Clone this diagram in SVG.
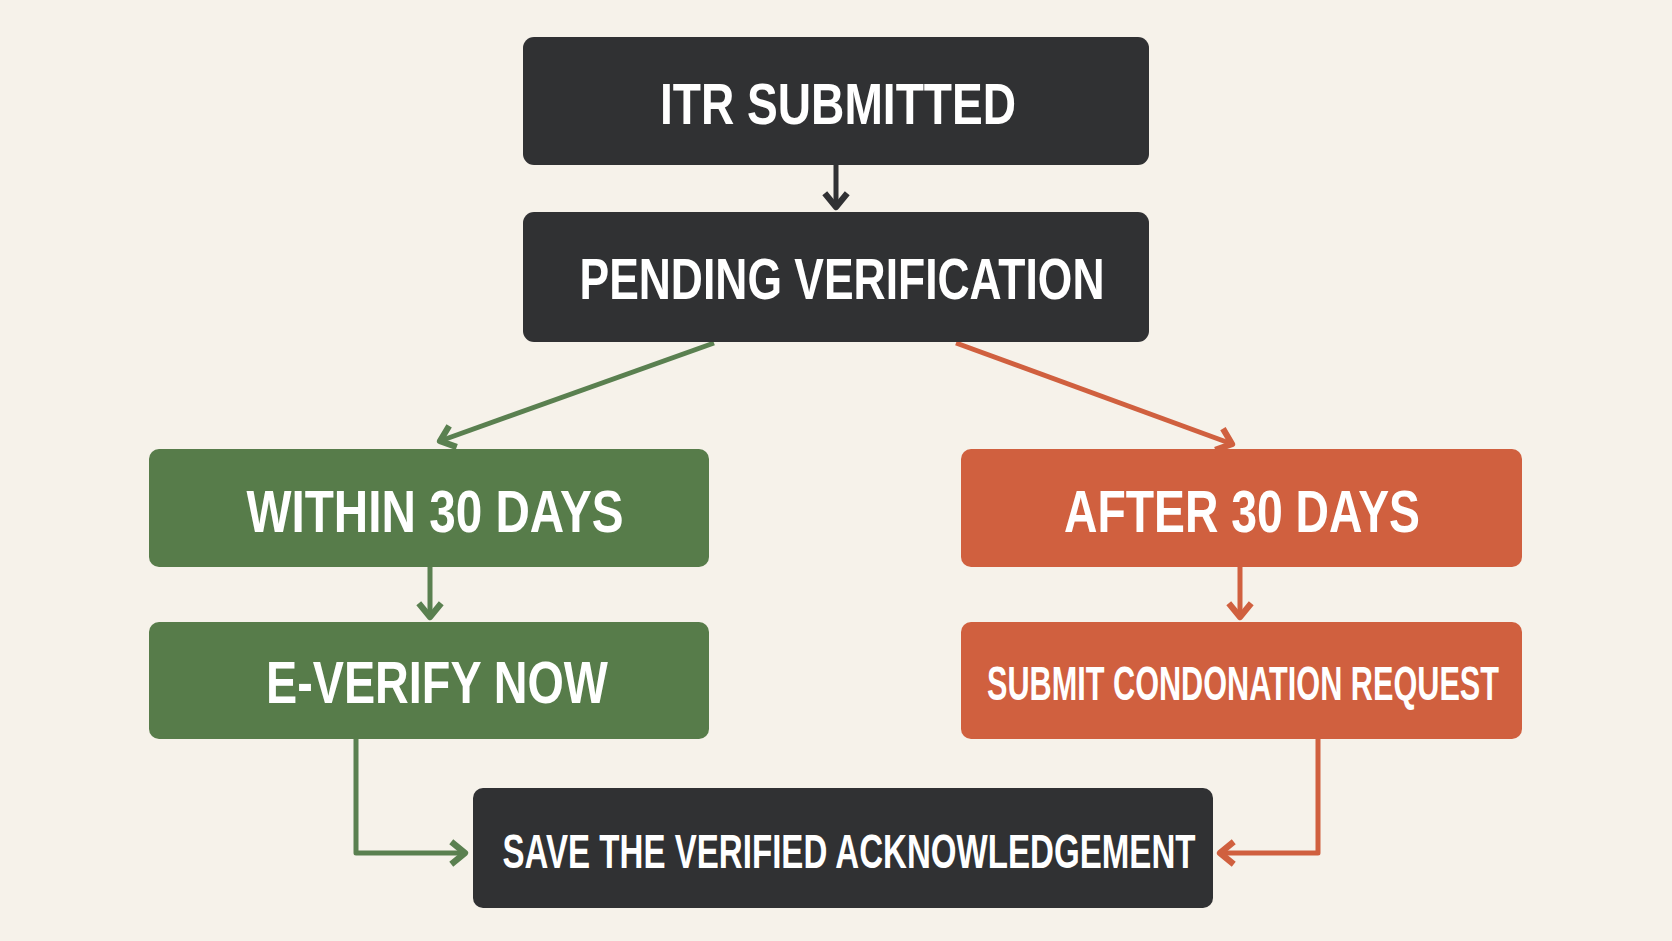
<svg xmlns="http://www.w3.org/2000/svg" width="1672" height="941" viewBox="0 0 1672 941">
<style>
.lbl{font-family:"Liberation Sans Narrow","Liberation Sans",Arial,sans-serif;font-weight:bold;fill:#ffffff;text-anchor:middle}
.dark{fill:#303133}
.green{fill:#577c4a}
.orange{fill:#d0603f}
.ln{fill:none;stroke-width:5;stroke-linejoin:round}
</style>
<defs>
<marker id="mDark" markerUnits="userSpaceOnUse" markerWidth="30" markerHeight="30" viewBox="-14 -12 18 24" refX="0" refY="0" orient="auto"><path d="M-11,-9 L0,0 L-11,9" fill="none" stroke="#303133" stroke-width="5" stroke-linejoin="round"/></marker>
<marker id="mGreen" markerUnits="userSpaceOnUse" markerWidth="30" markerHeight="30" viewBox="-14 -12 18 24" refX="0" refY="0" orient="auto"><path d="M-11,-9 L0,0 L-11,9" fill="none" stroke="#5a8050" stroke-width="5" stroke-linejoin="round"/></marker>
<marker id="mOrange" markerUnits="userSpaceOnUse" markerWidth="30" markerHeight="30" viewBox="-14 -12 18 24" refX="0" refY="0" orient="auto"><path d="M-11,-9 L0,0 L-11,9" fill="none" stroke="#d0603f" stroke-width="5" stroke-linejoin="round"/></marker>
</defs>
<rect width="1672" height="941" fill="#f6f2ea"/>
<g id="connectors">
<path class="ln" stroke="#303133" d="M836,165 L836,207" marker-end="url(#mDark)"/>
<path class="ln" stroke="#5a8050" d="M714,343 L440,441" marker-end="url(#mGreen)"/>
<path class="ln" stroke="#d0603f" d="M956,343 L1232,444" marker-end="url(#mOrange)"/>
<path class="ln" stroke="#5a8050" d="M430,567 L430,617" marker-end="url(#mGreen)"/>
<path class="ln" stroke="#d0603f" d="M1240,567 L1240,617" marker-end="url(#mOrange)"/>
<path class="ln" stroke="#5a8050" d="M356,739 L356,853 L465,853" marker-end="url(#mGreen)"/>
<path class="ln" stroke="#d0603f" d="M1318,739 L1318,853 L1220,853" marker-end="url(#mOrange)"/>
</g>
<g id="itr-submitted">
<rect class="dark" x="523" y="37" width="626" height="128" rx="11"/>
<text class="lbl" x="838" y="124" font-size="58" textLength="356" lengthAdjust="spacingAndGlyphs">ITR SUBMITTED</text>
</g>
<g id="pending-verification">
<rect class="dark" x="523" y="212" width="626" height="130" rx="11"/>
<text class="lbl" x="842" y="299" font-size="57" textLength="525" lengthAdjust="spacingAndGlyphs">PENDING VERIFICATION</text>
</g>
<g id="within-30-days">
<rect class="green" x="149" y="449" width="560" height="118" rx="10"/>
<text class="lbl" x="435" y="532" font-size="59" textLength="377" lengthAdjust="spacingAndGlyphs">WITHIN 30 DAYS</text>
</g>
<g id="e-verify-now">
<rect class="green" x="149" y="622" width="560" height="117" rx="10"/>
<text class="lbl" x="437" y="703" font-size="59" textLength="342" lengthAdjust="spacingAndGlyphs">E-VERIFY NOW</text>
</g>
<g id="after-30-days">
<rect class="orange" x="961" y="449" width="561" height="118" rx="10"/>
<text class="lbl" x="1242" y="532" font-size="59" textLength="356" lengthAdjust="spacingAndGlyphs">AFTER 30 DAYS</text>
</g>
<g id="submit-condonation-request">
<rect class="orange" x="961" y="622" width="561" height="117" rx="10"/>
<text class="lbl" x="1243" y="700" font-size="48" textLength="512" lengthAdjust="spacingAndGlyphs">SUBMIT CONDONATION REQUEST</text>
</g>
<g id="save-acknowledgement">
<rect class="dark" x="473" y="788" width="740" height="120" rx="10"/>
<text class="lbl" x="849" y="868" font-size="49" textLength="693" lengthAdjust="spacingAndGlyphs">SAVE THE VERIFIED ACKNOWLEDGEMENT</text>
</g>
</svg>
